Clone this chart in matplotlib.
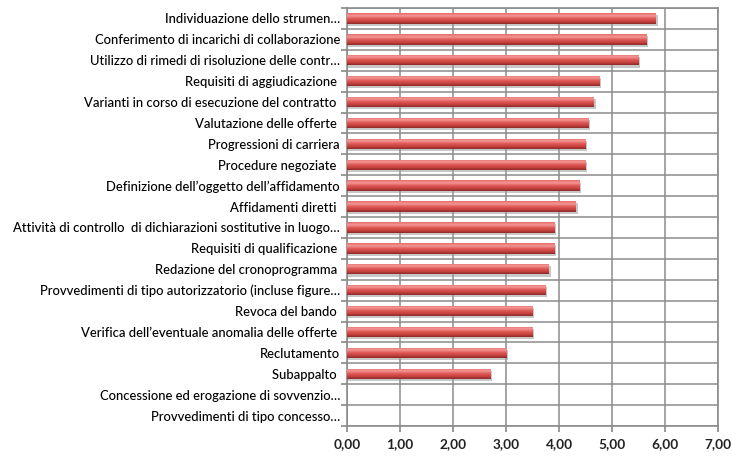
import matplotlib.pyplot as plt
import numpy as np
from matplotlib.colors import LinearSegmentedColormap

categorie = [
    "Individuazione dello strumen…",
    "Conferimento di incarichi di collaborazione",
    "Utilizzo di rimedi di risoluzione delle contr…",
    "Requisiti di aggiudicazione ",
    "Varianti in corso di esecuzione del contratto ",
    "Valutazione delle offerte ",
    "Progressioni di carriera",
    "Procedure negoziate ",
    "Definizione dell’oggetto dell’affidamento",
    "Affidamenti diretti ",
    "Attività di controllo  di dichiarazioni sostitutive in luogo…",
    "Requisiti di qualificazione ",
    "Redazione del cronoprogramma ",
    "Provvedimenti di tipo autorizzatorio (incluse figure…",
    "Revoca del bando ",
    "Verifica dell’eventuale anomalia delle offerte ",
    "Reclutamento",
    "Subappalto ",
    "Concessione ed erogazione di sovvenzio…",
    "Provvedimenti di tipo concesso…",
]
valori = [5.83, 5.65, 5.50, 4.76, 4.66, 4.56, 4.50, 4.50, 4.38, 4.32,
          3.92, 3.92, 3.81, 3.75, 3.50, 3.50, 3.01, 2.70, 0.0, 0.0]
xticks = [0, 1, 2, 3, 4, 5, 6, 7]
xtick_labels = ["0,00", "1,00", "2,00", "3,00", "4,00", "5,00", "6,00", "7,00"]

plt.rcParams['font.family'] = ['Lato', 'DejaVu Sans']

fig = plt.figure(figsize=(7.32, 4.57), dpi=100)
ax = fig.add_axes([347 / 732, 1 - 426 / 457, (718 - 347) / 732, (426 - 8) / 457])

n = len(categorie)
y = np.arange(n)
altezza = 0.5

# gradiente rosso: riflesso chiaro in alto, scuro in basso
cmap = LinearSegmentedColormap.from_list("rosso", ["#e86a67", "#f39896", "#e05a57", "#c94341", "#8e2a28"])
grad = np.linspace(0, 1, 64).reshape(-1, 1)

for yi, v in zip(y, valori):
    if v <= 0:
        continue
    # ombra
    ax.barh(yi + 0.1, v + 0.03, height=altezza, color="#9a9a9a", alpha=0.55, zorder=2)
    b = ax.barh(yi, v, height=altezza, color="#d9524f", zorder=3)[0]
    im = ax.imshow(grad, extent=[0, v, yi + altezza / 2, yi - altezza / 2],
                   cmap=cmap, aspect="auto", zorder=4, origin="upper")
    im.set_clip_path(b)

ax.set_xlim(0, 7)
ax.set_ylim(n - 0.5, -0.5)

ax.set_xticks(xticks)
ax.set_xticklabels(xtick_labels, fontweight="bold", fontsize=9.8, color="#222222")
ax.set_yticks(y)
ax.set_yticklabels(categorie, fontsize=9.4, color="#000000", fontweight="medium")
ax.tick_params(axis="y", which="major", length=0, pad=5)
ax.set_yticks(np.arange(n + 1) - 0.5, minor=True)
ax.tick_params(axis="y", which="minor", length=4, color="#888888", width=1.2)
ax.tick_params(axis="x", length=4, color="#888888", width=1.2, pad=5)

ax.grid(axis="x", color="#8c8c8c", linewidth=1.1, zorder=0)
ax.grid(axis="y", which="minor", color="#8c8c8c", linewidth=1.1, zorder=0)
ax.set_axisbelow(True)
for s in ax.spines.values():
    s.set_color("#8c8c8c")
    s.set_linewidth(1.2)

fig.savefig("out.png", dpi=100)
